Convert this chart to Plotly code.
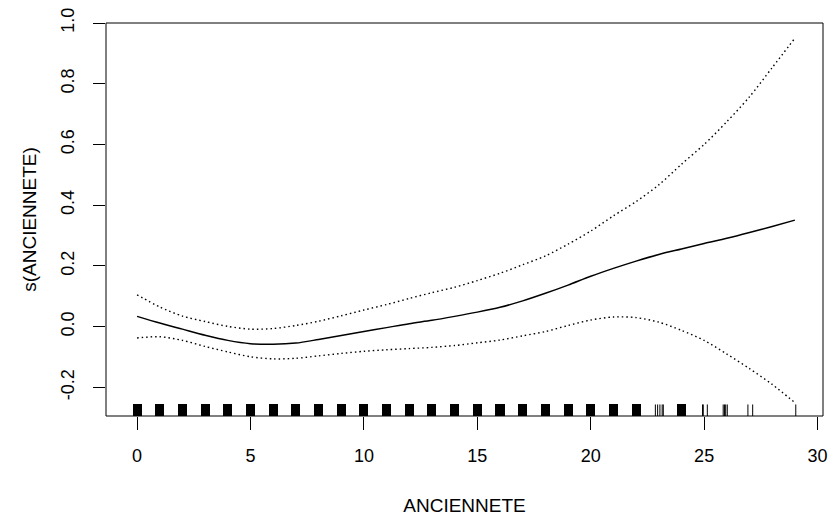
import plotly.graph_objects as go

# Smooth term s(ANCIENNETE) from a GAM fit, with +/- 2 SE bands
anciennete = list(range(0, 30))
fit = [0.034, 0.012, -0.008, -0.028, -0.045, -0.056, -0.058, -0.054, -0.042, -0.029,
       -0.016, -0.003, 0.010, 0.021, 0.034, 0.048, 0.064, 0.085, 0.110, 0.137,
       0.166, 0.192, 0.216, 0.238, 0.256, 0.274, 0.291, 0.310, 0.330, 0.351]
upper = [0.105, 0.065, 0.035, 0.017, 0.001, -0.008, -0.006, 0.004, 0.018, 0.036,
         0.055, 0.073, 0.093, 0.112, 0.130, 0.152, 0.176, 0.204, 0.233, 0.272,
         0.315, 0.365, 0.412, 0.467, 0.535, 0.600, 0.675, 0.757, 0.853, 0.950]
lower = [-0.037, -0.033, -0.045, -0.065, -0.083, -0.099, -0.106, -0.104, -0.096, -0.088,
         -0.081, -0.076, -0.072, -0.068, -0.062, -0.053, -0.044, -0.030, -0.016, 0.004,
         0.022, 0.032, 0.030, 0.015, -0.012, -0.045, -0.090, -0.138, -0.190, -0.250]

# Rug of observed values: heavily tied integers show as solid blocks,
# sparse values as single ticks
rug_blocks = list(range(0, 23)) + [24]
rug_ticks = [22.85, 22.95, 23.05, 23.15, 23.2, 24.93, 24.96, 25.14,
             25.84, 25.9, 25.95, 26.02, 26.93, 27.14, 29.04]

x_ticks = [0, 5, 10, 15, 20, 25, 30]
y_ticks = [-0.2, 0.0, 0.2, 0.4, 0.6, 0.8, 1.0]
y_ticktext = ["-0.2", "0.0", "0.2", "0.4", "0.6", "0.8", "1.0"]

x_range = [-1.37, 30.24]
y_range = [-0.294, 1.0]
rug_len = 0.038

FONT = "Liberation Sans, Arial, sans-serif"

fig = go.Figure()

fig.add_trace(go.Bar(
    x=rug_blocks, y=[rug_len] * len(rug_blocks), base=y_range[0], width=0.4,
    marker=dict(color="black", line=dict(width=0)), hoverinfo="skip",
))

tx, ty = [], []
for v in rug_ticks:
    tx += [v, v, None]
    ty += [y_range[0], y_range[0] + rug_len, None]
fig.add_trace(go.Scatter(x=tx, y=ty, mode="lines",
                         line=dict(color="black", width=1), hoverinfo="skip"))

for band in (upper, lower):
    fig.add_trace(go.Scatter(
        x=anciennete, y=band, mode="lines",
        line=dict(color="black", width=1.4, dash="1.5px,3px", shape="spline", smoothing=0.8),
    ))

fig.add_trace(go.Scatter(
    x=anciennete, y=fit, mode="lines",
    line=dict(color="black", width=1.5, shape="spline", smoothing=0.8),
))

fig.add_shape(type="rect", xref="paper", yref="paper", x0=0, y0=0, x1=1, y1=1,
              line=dict(color="black", width=1), layer="above")

fig.update_layout(
    width=836, height=521,
    margin=dict(l=106, r=8, t=22, b=105),
    paper_bgcolor="white", plot_bgcolor="white",
    showlegend=False, bargap=0,
    font=dict(family=FONT, color="black"),
    xaxis=dict(
        range=x_range, tickvals=x_ticks, ticks="outside", ticklen=13,
        tickcolor="black", tickwidth=1, showgrid=False, zeroline=False,
        showline=False, tickfont=dict(size=18, family=FONT, color="black"),
        ticklabelstandoff=10,
        title=dict(text="ANCIENNETE", font=dict(size=19, family=FONT, color="black"),
                   standoff=34),
    ),
    yaxis=dict(
        range=y_range, tickvals=y_ticks, ticktext=y_ticktext, ticks="outside",
        ticklen=12, tickcolor="black", tickwidth=1, showgrid=False,
        zeroline=False, showline=False, tickangle=-90,
        tickfont=dict(size=18, family=FONT, color="black"),
        ticklabelstandoff=12,
        title=dict(text="s(ANCIENNETE)", font=dict(size=19, family=FONT, color="black"),
                   standoff=16),
    ),
)

fig.write_html("out.html")
